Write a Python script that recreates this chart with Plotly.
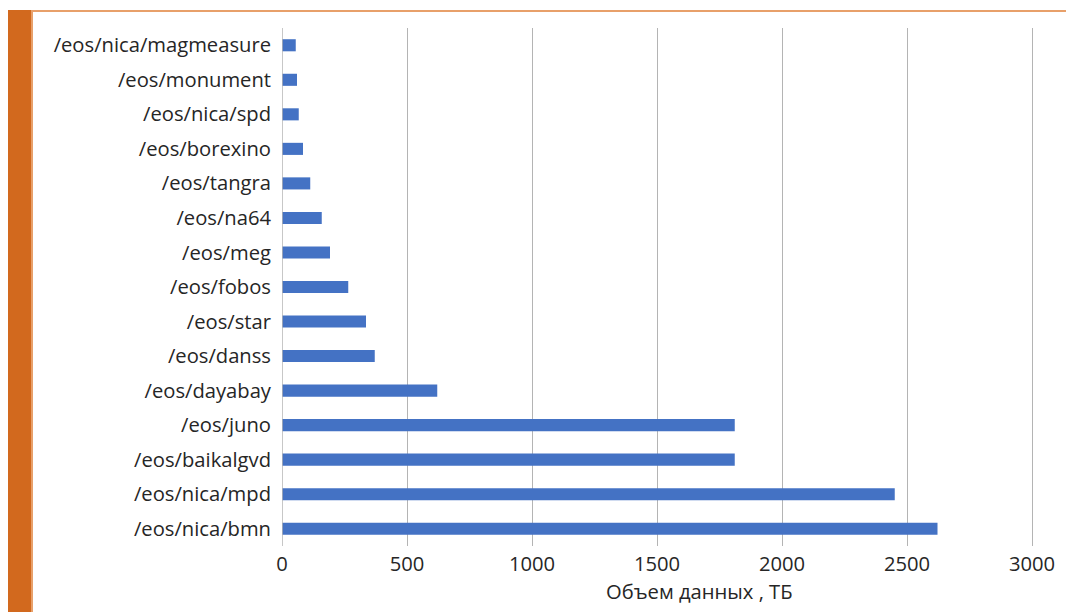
import plotly.graph_objects as go

categories = [
    "/eos/nica/bmn", "/eos/nica/mpd", "/eos/baikalgvd", "/eos/juno",
    "/eos/dayabay", "/eos/danss", "/eos/star", "/eos/fobos", "/eos/meg",
    "/eos/na64", "/eos/tangra", "/eos/borexino", "/eos/nica/spd",
    "/eos/monument", "/eos/nica/magmeasure",
]
values_tb = [2622, 2451, 1811, 1811, 621, 371, 336, 265, 192, 159, 113, 84, 67, 60, 55]
x_ticks = [0, 500, 1000, 1500, 2000, 2500, 3000]
x_title = "Объем данных , ТБ"

W, H = 1066, 612
L, R, T, B = 282, 14, 28, 66
pw, ph = W - L - R, H - T - B

def px_x(p):
    return (p - L) / pw

def px_y(p):
    return (H - B - p) / ph

fig = go.Figure(go.Bar(
    x=values_tb, y=categories, orientation="h",
    marker=dict(color="#4472C4", line=dict(width=0)),
))

font = dict(family="Open Sans", size=20.2, color="#262626")

fig.update_layout(
    width=W, height=H,
    margin=dict(l=L, r=R, t=T, b=B, pad=0),
    paper_bgcolor="white", plot_bgcolor="white",
    bargap=0.65, showlegend=False,
    font=font,
    xaxis=dict(
        range=[0, 3080], tickvals=x_ticks, ticktext=[str(v) for v in x_ticks],
        showgrid=True, gridcolor="#B4B4B4", gridwidth=1.3,
        zeroline=False, showline=False, ticks="", tickfont=font,
        ticklabelstandoff=4,
    ),
    yaxis=dict(
        categoryorder="array", categoryarray=categories,
        range=[-0.5, len(categories) - 0.5],
        showgrid=False, zeroline=False, showline=False, ticks="",
        tickfont=font, ticklabelstandoff=10,
    ),
    shapes=[
        dict(type="line", xref="x", yref="paper", x0=0, x1=0, y0=0, y1=1,
             line=dict(color="#B4B4B4", width=1.5)),
        dict(type="rect", xref="paper", yref="paper",
             x0=px_x(8), x1=px_x(31), y0=px_y(612), y1=px_y(10),
             fillcolor="#D2691E", line=dict(width=0), layer="above"),
        dict(type="rect", xref="paper", yref="paper",
             x0=px_x(31), x1=px_x(33), y0=px_y(612), y1=px_y(10),
             fillcolor="#E8A06A", line=dict(width=0), layer="above"),
        dict(type="rect", xref="paper", yref="paper",
             x0=px_x(31), x1=px_x(1066), y0=px_y(12), y1=px_y(10),
             fillcolor="#E8A06A", line=dict(width=0), layer="above"),
    ],
    annotations=[
        dict(text=x_title, xref="paper", yref="paper",
             x=px_x(699), y=px_y(591), xanchor="center", yanchor="middle",
             showarrow=False, font=font),
    ],
)

fig.write_html(
    "out.html",
    config={"displayModeBar": False},
    post_script="document.body.style.margin='0';document.body.style.overflow='hidden';",
)
